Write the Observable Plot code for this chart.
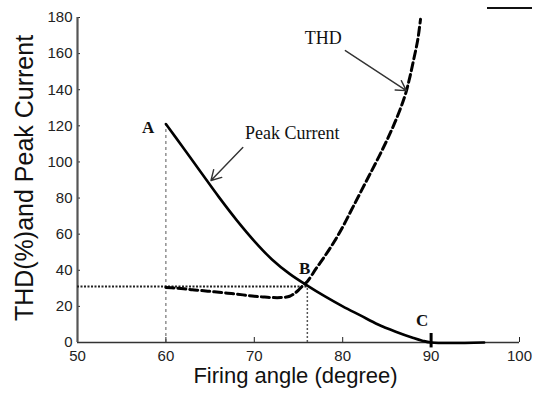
<!DOCTYPE html>
<html>
<head>
<meta charset="utf-8">
<script src="https://cdn.jsdelivr.net/npm/d3@7"></script>
<script src="https://cdn.jsdelivr.net/npm/@observablehq/plot@0.6"></script>
<style>
  body { margin: 0; background: #fff; }
  #chart { position: relative; width: 533px; height: 398px; }
  #scrap { position: absolute; left: 487px; top: 7px; width: 45px; height: 2px; background: #111; }
</style>
</head>
<body>
<div id="chart"><div id="scrap"></div></div>
<script>
// Peak current (solid line)
const peakAngle = [60, 62, 64, 66, 68, 70, 72, 74, 76, 78, 80, 82, 84, 86, 88, 89, 90, 96];
const peakValue = [121, 107.6, 94, 80.5, 67.8, 56.2, 46, 38, 31.5, 25.5, 20, 15, 10, 6, 2.5, 1, 0, 0];

// THD (dashed line)
const thdAngle = [60, 61, 62, 63, 64, 65, 66, 67, 68, 69, 70, 71, 72, 73, 74, 74.5, 75, 75.5, 76, 77, 78, 79, 80, 81, 82, 83, 84, 85, 86, 87, 87.5, 88, 88.5, 88.8];
const thdValue = [30.5, 30.2, 29.8, 29.2, 28.8, 28.3, 27.8, 27.3, 26.8, 26.2, 25.6, 25.2, 24.9, 24.9, 25.6, 27, 29, 31.5, 33.8, 41, 48, 55.5, 64, 73.5, 83, 92.5, 102, 112, 123, 136, 145, 156, 168, 179];

// Reference guides
const pointA = {angle: 60, value: 121};
const pointB = {angle: 76, value: 31};
const pointC = {angle: 90, lo: -3, hi: 5};

// Tick labels
const xTicks = [50, 60, 70, 80, 90, 100];
const yTicks = [0, 20, 40, 60, 80, 100, 120, 140, 160, 180];

// Annotations
const letterLabels = ["A", "B", "C"];
const letterAngle = [58.0, 75.7, 89.0];
const letterValue = [119, 41, 12.2];
const curveLabels = ["THD", "Peak Current"];
const curveLabelAngle = [77.8, 74.3];
const curveLabelValue = [168.3, 115.7];
const arrowFromAngle = [80.3, 68.7];
const arrowFromValue = [161.7, 108];
const arrowToAngle = [87.2, 65.1];
const arrowToValue = [139.5, 89.7];

const peak = peakAngle.map((a, i) => ({angle: a, value: peakValue[i]}));
const thd = thdAngle.map((a, i) => ({angle: a, value: thdValue[i]}));
const letters = letterLabels.map((t, i) => ({t, angle: letterAngle[i], value: letterValue[i]}));
const curveText = curveLabels.map((t, i) => ({t, angle: curveLabelAngle[i], value: curveLabelValue[i]}));
const arrows = arrowFromAngle.map((a, i) => ({x1: a, y1: arrowFromValue[i], x2: arrowToAngle[i], y2: arrowToValue[i]}));

const sans = "'Liberation Sans', Arial, sans-serif";
const serif = "'Liberation Serif', 'Times New Roman', serif";

const chart = Plot.plot({
  width: 533,
  height: 398,
  marginLeft: 77,
  marginRight: 14,
  marginTop: 17,
  marginBottom: 56,
  style: {fontFamily: sans, background: "#fff", color: "#000", overflow: "visible"},
  x: {domain: [50, 100]},
  y: {domain: [0, 180]},
  marks: [
    // inward ticks
    Plot.axisX(xTicks, {tickSize: -5, tickFormat: () => "", label: null, stroke: "#222"}),
    Plot.axisY(yTicks, {tickSize: -3, tickFormat: () => "", label: null, stroke: "#222"}),
    // tick labels
    Plot.axisX(xTicks, {tickSize: 0, tickPadding: 8, fontSize: 15, label: null, fill: "#222"}),
    Plot.axisY(yTicks, {tickSize: 0, tickPadding: 5, fontSize: 15, label: null, fill: "#222"}),
    // spines
    Plot.ruleY([0], {stroke: "#333", strokeWidth: 1.5}),
    Plot.ruleX([50], {stroke: "#555", strokeWidth: 2.2}),
    // guides
    Plot.ruleX([pointA], {x: "angle", y1: 0, y2: "value", stroke: "#444", strokeWidth: 0.9, strokeDasharray: "3,3"}),
    Plot.ruleY([pointB], {y: "value", x1: 50, x2: "angle", stroke: "#222", strokeWidth: 2, strokeDasharray: "2,1.5"}),
    Plot.ruleX([pointB], {x: "angle", y1: 0, y2: "value", stroke: "#555", strokeWidth: 1.5, strokeDasharray: "2,2"}),
    Plot.ruleX([pointC], {x: "angle", y1: "lo", y2: "hi", stroke: "#000", strokeWidth: 3}),
    // curves
    Plot.line(thd, {x: "angle", y: "value", stroke: "#000", strokeWidth: 3, strokeDasharray: "8,4", curve: "catmull-rom"}),
    Plot.line(peak, {x: "angle", y: "value", stroke: "#000", strokeWidth: 2.6, curve: "catmull-rom"}),
    // annotations
    Plot.arrow(arrows, {x1: "x1", y1: "y1", x2: "x2", y2: "y2", stroke: "#333", strokeWidth: 1.4, headLength: 12}),
    Plot.text(letters, {x: "angle", y: "value", text: "t", fontFamily: serif, fontWeight: "bold", fontSize: 17, fill: "#111"}),
    Plot.text(curveText, {x: "angle", y: "value", text: "t", fontFamily: serif, fontSize: 18, fill: "#111"}),
    // axis titles
    Plot.text(["Firing angle (degree)"], {frameAnchor: "bottom", textAnchor: "middle", lineAnchor: "middle", dy: 33, dx: -3, fontSize: 22, fill: "#111"}),
    Plot.text(["THD(%)and Peak Current"], {frameAnchor: "left", textAnchor: "middle", lineAnchor: "middle", rotate: -90, dx: -53, dy: -2, fontSize: 25, fill: "#111"})
  ]
});
document.getElementById("chart").prepend(chart);
</script>
</body>
</html>
